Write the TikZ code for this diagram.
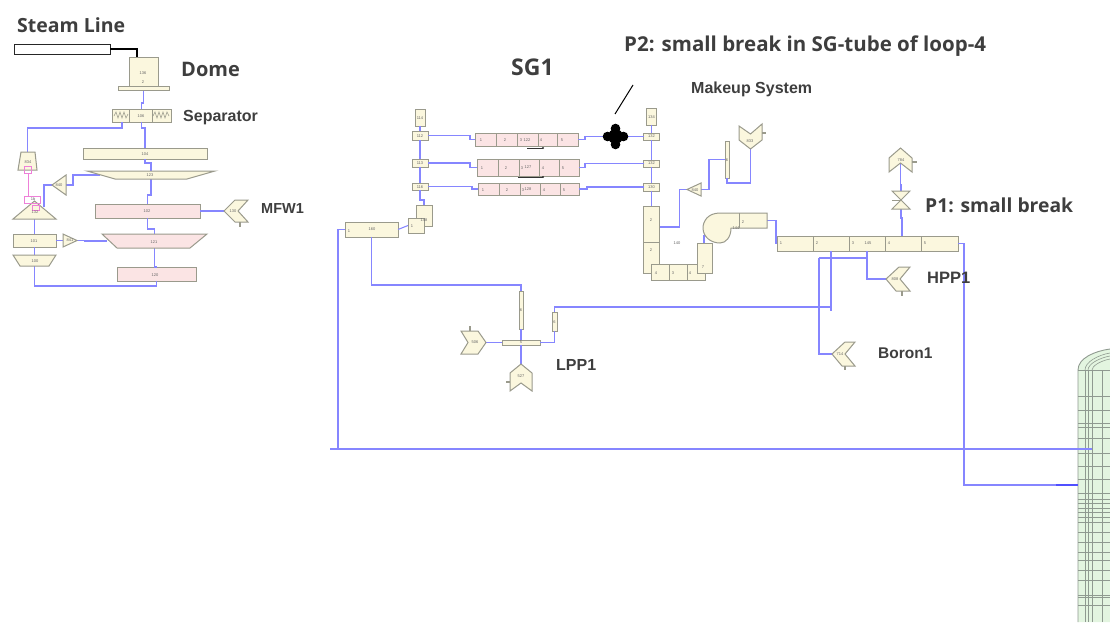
\documentclass[tikz,border=0pt]{standalone}
\usepackage{fontspec}
\setmainfont{Liberation Sans}
\newfontfamily\lab{Open Sans}
\usetikzlibrary{calc}
\definecolor{cream}{HTML}{FBF7DE}
\definecolor{rosy}{HTML}{FBE4E4}
\definecolor{edge}{HTML}{9A9A8C}
\definecolor{pipeblue}{HTML}{8686FF}
\definecolor{magent}{HTML}{EE80D8}
\definecolor{inkk}{HTML}{3E3E3E}
\definecolor{vessel}{HTML}{E3F5E0}
\definecolor{mesh}{HTML}{8F9A90}
\tikzset{
 boxy/.style={draw=edge,fill=cream,line width=1pt},
 pinky/.style={draw=edge,fill=rosy,line width=1pt},
 ghost/.style={draw=none,fill=none},
 pipe/.style={draw=pipeblue,line width=1.05pt},
 poly/.style={draw=edge,fill=cream,line width=1pt},
 polyp/.style={draw=edge,fill=rosy,line width=1pt},
 stub/.style={draw=edge,line width=1.2pt},
 divv/.style={draw=edge,line width=0.6pt},
 pinkline/.style={draw=magent,line width=0.8pt},
 tiny/.style={font=\fontsize{4}{5}\selectfont,text=inkk!80},
 bigl/.style={font=\lab\bfseries\fontsize{#1}{#1}\selectfont,text=inkk,inner sep=0,anchor=west},
 arl/.style={font=\bfseries\fontsize{#1}{#1}\selectfont,text=inkk,inner sep=0,anchor=west},
}
\newcommand{\bx}[7][boxy]{%
 \pgfmathsetmacro{\cxx}{(#3+#5)/2}\pgfmathsetmacro{\cyy}{(#4+#6)/2}%
 \pgfmathsetmacro{\www}{#5-#3}\pgfmathsetmacro{\hhh}{#6-#4}%
 \node[#1,rectangle,inner sep=0,outer sep=0,minimum width=\www pt,minimum height=\hhh pt,tiny] (#2) at (\cxx,\cyy) {#7};}
\begin{document}
\begin{tikzpicture}[x=1pt,y=-1pt]
\useasboundingbox (0,0) rectangle (1110,622);
% ---------- vessel
\fill[vessel] (1078,622) -- (1078,370) .. controls (1078,358) and (1095,351) .. (1110,349) -- (1110,622) -- cycle;
\begin{scope}
\clip (1078,622) -- (1078,370) .. controls (1078,358) and (1095,351) .. (1110,349) -- (1110,622) -- cycle;
\foreach \yy in {396.5,410,423,427,438,453,466,479,493,499,503,508,512,517,522,532,542,552,560,570,580,595,597,605}
  \draw[draw=mesh,line width=0.6pt] (1078,\yy) -- (1110,\yy);
\foreach \xx in {1085,1088,1092,1102} \draw[draw=mesh,line width=0.6pt] (\xx,370) -- (\xx,622);
\draw[draw=mesh,line width=0.6pt] (1078,370) -- (1110,370);
\draw[draw=mesh,line width=0.6pt] (1085,370) .. controls (1085,362) and (1098,355) .. (1110,353);
\draw[draw=mesh,line width=0.6pt] (1088,370) .. controls (1088,364) and (1099,358) .. (1110,356);
\draw[draw=mesh,line width=0.6pt] (1092,370) .. controls (1092,366) and (1100,361) .. (1110,359);
\end{scope}
\draw[draw=mesh,line width=0.9pt] (1078,622) -- (1078,370) .. controls (1078,358) and (1095,351) .. (1110,349);
% ---------- named frames (left loop)
\bx[ghost]{dome}{118}{57}{169}{90}{}
\bx[ghost]{pmfw}{224}{200}{248}{222}{}
\bx[ghost]{tEight}{18}{152}{37}{170}{}
\bx[ghost]{tOTT}{87}{171}{215}{179}{}
\bx[ghost]{tOTO}{102}{234}{207}{248}{}
\bx[ghost]{tHun}{13}{255}{56}{266}{}
\bx[ghost]{tri}{13}{201}{56}{219}{}
\bx[ghost]{pa}{52}{175}{66}{195}{}
\bx[ghost]{tb}{63}{234}{77}{247}{}
\coordinate (domeTop) at (137,57);
\coordinate (sepOut) at (122,122);
\coordinate (triOut) at (44,207);
\coordinate (tOTTw) at (100,175);
\coordinate (tOTOw) at (107,241);
% ---------- named frames (SG and pump)
\bx[ghost]{blob}{603}{123}{628}{150}{}
\bx[ghost]{tri2}{687}{183}{701}{196}{}
\bx[ghost]{pump833}{739}{124}{762}{149}{}
\bx[ghost]{casing}{703}{213}{767}{243}{}
\bx[ghost]{valve}{892}{191}{910}{209}{}
\bx[ghost]{pump784}{889}{148}{912}{172}{}
\bx[ghost]{pHPP}{886}{267}{910}{291}{}
\bx[ghost]{pBor}{832}{342}{855}{366}{}
\bx[ghost]{pLeft}{461}{331}{486}{354}{}
\bx[ghost]{pBot}{510}{364}{532}{391}{}
% ---------- solid boxes are named before the connectors
\node[draw=black!85,fill=white,line width=1pt,minimum width=96pt,minimum height=10pt,inner sep=0,outer sep=0] (stm) at (62,49) {};
\bx{sep}{112}{109}{171}{122}{}
\bx{bOFour}{83}{148}{207}{159}{}
\bx[pinky]{bOTwo}{95}{204}{200}{218}{}
\bx{bOOne}{13}{234}{56}{247}{}
\bx[pinky]{bOTw}{117}{267}{196}{281}{}
\bx{sTop}{415}{109}{425}{126}{}
\bx{jA}{412}{131}{428}{140}{}
\bx{jB}{412}{159}{428}{167}{}
\bx{jC}{412}{183}{428}{190}{}
\bx{bFE}{416}{205}{432}{226}{}
\bx{bFN}{408}{218}{424}{233}{}
\bx{bSix}{345}{222}{398}{237}{}
\bx[pinky]{pA}{475}{133}{578}{146}{}
\bx[pinky]{pB}{477}{159}{579}{176}{}
\bx[pinky]{pC}{478}{183}{579}{195}{}
\bx{rTop}{646.5}{108}{656.5}{125}{}
\bx{jD}{643.5}{133}{659.5}{140}{}
\bx{jE}{643.5}{160}{659.5}{167}{}
\bx{jF}{643.5}{183}{659.5}{191}{}
\bx{um}{643.5}{206}{659.5}{273}{}
\bx{ub}{651}{264}{705}{280}{}
\bx{ur}{697}{243}{712}{273}{}
\bx{vOne}{725}{141}{729}{178}{}
\bx{bPres}{777}{236}{958}{251}{}
\bx{vTwo}{552}{312}{557}{331}{}
\bx{vThree}{519}{291}{523}{329}{}
\bx{hOne}{502}{340}{540}{345}{}
\coordinate (uOut) at (659.5,227);
\coordinate (cOut) at (767,220.5);
\coordinate (urTop) at (704,243);
\coordinate (cIn) at (704,235);
\coordinate (cTop) at (902,236);
\coordinate (c784) at (900.5,163);
\coordinate (cA) at (831,251);
\coordinate (cAm) at (831,307);
\coordinate (cAe) at (831,311);
\coordinate (cB) at (867,251);
\coordinate (cBm) at (867,258);
\coordinate (cC) at (819,258);
\coordinate (mainL) at (330,449);
\coordinate (mainR) at (1092,449);
\coordinate (mainJ) at (338,449);
\coordinate (vesIn) at (1078,485);
\coordinate (vesT) at (1056,485);
% ---------- connectors
\draw[draw=black,line width=2pt] (stm.east) -| (domeTop);
\draw[pipe] (dome.south) -- ++(0,13) -| (sep.north);
\draw[pipe] (sep.south) -- ++(0,6) -| (bOFour.north);
\draw[pipe] (sepOut) -- ++(0,6) -| (tEight.north);
\draw[pipe] (bOFour.south) -- ++(0,4) -| (tOTT.north);
\draw[pipe] (tOTT.south) -- ++(0,16) -| (bOTwo.north);
\draw[pipe] (bOTwo.south) -- ++(0,11) -| (tOTO.north);
\draw[pipe] (tOTO.south) -- ++(0,19) -| (bOTw.north);
\draw[pipe] (bOTw.south) -- ++(0,5) -| (tHun.south);
\draw[pipe] (tHun.north) -- (bOOne.south);
\draw[pipe] (bOOne.north) -- (tri.south);
\draw[pipe] (bOTwo.east) -- (pmfw.west);
\draw[pipe] (triOut) |- (pa.west);
\draw[pipe] (pa.east) -- ++(7,0) |- (tOTTw);
\draw[pipe] (bOOne.east) -- (tb.west);
\draw[pipe] (tb.east) -- ++(8,0) |- (tOTOw);
\draw[pipe] (sTop.south) -- (jA.north);
\draw[pipe] (jA.south) -- (jB.north);
\draw[pipe] (jB.south) -- (jC.north);
\draw[pipe] (jC.south) -- ++(0,10) -| (bFE.north);
\draw[pipe] (bSix.east) -- (bFN.west);
\draw[pipe] (jA.east) -- ++(42,0) |- (pA.west);
\draw[pipe] (jB.east) -- ++(42,0) |- (pB.west);
\draw[pipe] (jC.east) -- ++(44,0) |- (pC.west);
\draw[pipe] (pA.east) -- ++(7,0) |- (blob.west);
\draw[pipe] (blob.east) -- (jD.west);
\draw[pipe] (pB.east) -- ++(6,0) |- (jE.west);
\draw[pipe] (pC.east) -- ++(8,0) |- (jF.west);
\draw[pipe] (rTop.south) -- (jD.north);
\draw[pipe] (jD.south) -- (jE.north);
\draw[pipe] (jE.south) -- (jF.north);
\draw[pipe] (jF.south) -- (um.north);
\draw[pipe] (uOut) -- ++(20,0) |- (tri2.west);
\draw[pipe] (tri2.east) -- ++(8,0) |- (vOne.west);
\draw[pipe] (vOne.south) -- ++(0,5) -| (pump833.south);
\draw[pipe] (urTop) -- (cIn);
\draw[pipe] (cOut) -- ++(9,0) |- (bPres.west);
\draw[pipe] (cTop) -- ++(0,-18) -| (valve.south);
\draw[pipe] (valve.north) -- ++(0,-6) -| (c784);
\draw[pipe] (cA) -- (cAe);
\draw[pipe] (cB) |- (pHPP.west);
\draw[pipe] (cBm) -- (cC);
\draw[pipe] (cC) |- (pBor.west);
\draw[pipe] (vTwo.north) |- (cAm);
\draw[pipe] (vTwo.south) |- (hOne.east);
\draw[pipe] (bSix.south) -- ++(0,48) -| (vThree.north);
\draw[pipe] (vThree.south) -- (hOne.north);
\draw[pipe] (hOne.south) -- (pBot.north);
\draw[pipe] (pLeft.east) -- (hOne.west);
\draw[pipe] (bSix.west) -- ++(-7,0) |- (mainJ);
\draw[pipe,line width=1.3pt] (mainL) -- (mainR);
\draw[pipe] (bPres.east) -- ++(6,0) |- (vesIn);
\draw[pipe,line width=1.6pt,draw=pipeblue!60!blue] (vesT) -- (vesIn);
% ---------- polygons
\draw[poly] (129,57) -- (158,57) -- (158,86) -- (129,86) -- cycle;
\draw[poly] (118,86) rectangle (169,90);
\draw[poly] (21,152) -- (35,152) -- (37,170) -- (18,170) -- cycle;
\draw[poly] (87,171) -- (215,171) -- (187,179) -- (115,179) -- cycle;
\draw[polyp] (102,234) -- (207,234) -- (190,248) -- (117,248) -- cycle;
\draw[poly] (13,255) -- (56,255) -- (49,266) -- (20,266) -- cycle;
\draw[poly] (34.5,201) -- (56,219) -- (13,219) -- cycle;
\draw[poly] (52,185) -- (66,175) -- (66,195) -- cycle;
\draw[poly] (63,234) -- (77,240.5) -- (63,247) -- cycle;
\draw[poly] (224,211) -- (235,200) -- (248,200) -- (238,211) -- (248,222) -- (235,222) -- cycle;
\draw[stub] (240,222) -- (240,227);
\draw[poly] (687,189.5) -- (701,183) -- (701,196) -- cycle;
\draw[poly] (739,126) -- (750.5,134) -- (762,124) -- (762,140) -- (750.5,149) -- (739,140) -- cycle;
\draw[stub] (762,133) -- (766,133);
\draw[poly] (889,158) -- (900.5,148) -- (912,158) -- (912,172) -- (900.5,163) -- (889,172) -- cycle;
\draw[stub] (912,162) -- (917,162);
\draw[poly] (892,191) -- (910,191) -- (892,209) -- (910,209) -- cycle;
\draw[divv] (892,200) -- (901,200);
\draw[poly] (886,279) -- (899,267) -- (910,267) -- (900,279) -- (910,291) -- (896,291) -- cycle;
\draw[stub] (902,291) -- (902,296);
\draw[poly] (832,354) -- (845,342) -- (855,342) -- (845,354) -- (855,366) -- (842,366) -- cycle;
\draw[stub] (845,366) -- (845,370);
\draw[poly] (461,331) -- (478,331) -- (486,342.5) -- (478,354) -- (461,354) -- (468,342.5) -- cycle;
\draw[stub] (470,331) -- (470,326);
\draw[poly] (510,373) -- (521,364) -- (532,373) -- (532,391) -- (521,383) -- (510,391) -- cycle;
\draw[stub] (510,382) -- (506,382);
\draw[poly] (767,213) -- (720,213) .. controls (708,213) and (703,221) .. (703,228) .. controls (703,237) and (711,243) .. (720,243) .. controls (726,243) and (731,237) .. (731,228) -- (767,228) -- cycle;
\draw[divv] (739,213) -- (739,228);
% ---------- dividers
\draw[divv] (129,109) -- (129,122) (152,109) -- (152,122);
\foreach \xx in {496,517,538,557} \draw[divv] (\xx,133) -- (\xx,146);
\foreach \xx in {498,519,539,559} \draw[divv] (\xx,159) -- (\xx,176);
\foreach \xx in {499,520,540,560} \draw[divv] (\xx,183) -- (\xx,195);
\draw[divv] (643.5,242) -- (659.5,242) (669,264) -- (669,280) (687,264) -- (687,280) (697,273) -- (712,273);
\foreach \xx in {813,849,885,921} \draw[divv] (\xx,236) -- (\xx,251);
\draw[divv] (114,116) -- (116,112) -- (118,118) -- (120,112) -- (122,118) -- (124,112) -- (126,118) -- (128,114);
\draw[divv] (153,116) -- (155,112) -- (157,118) -- (159,112) -- (161,118) -- (163,112) -- (165,118) -- (167,112) -- (169,116);
% ---------- magenta part
\draw[pinkline] (24,166) rectangle (31,173);
\draw[pinkline] (28,173) -- (28,196);
\draw[pinkline] (24,196) rectangle (40,203);
\draw[pinkline] (32,205) rectangle (39,210);
% ---------- break symbol
\fill[black] (blob.center) circle (7.5);
\foreach \ang in {0,90,180,270} \fill[black] (blob.center) ++(\ang:8) circle (4.8);
\coordinate (breakTip) at (615,114);
\coordinate (breakEnd) at (633,85);
\draw[black,line width=1pt] (breakEnd) -- (breakTip);
% ---------- small black arrows
\draw[black!80,line width=0.8pt] (527,148) -- (543,148);
\draw[black!80,line width=0.8pt] (518,177) -- (543,177);
\fill[black!80] (543,148) circle (1.2) (543,177) circle (1.2);
% ---------- tiny labels
\begin{scope}[every node/.style={tiny,inner sep=0}]
\node at (143,73) {136}; \node at (143,82) {2}; \node at (141,116) {106};
\node at (145,154) {104}; \node at (150,175) {123}; \node at (147,211) {102};
\node at (154,242) {121}; \node at (155,275) {120}; \node at (34,241) {101};
\node at (35,261) {100}; \node at (28,162) {834}; \node at (35,212) {132};
\node at (33,199) {1b}; \node at (59,185) {840}; \node at (70,240) {841};
\node at (233,211) {130};
\node at (420,118) {114}; \node at (420,136) {112}; \node at (420,163) {113}; \node at (420,187) {116};
\node at (424,220) {148}; \node at (372,229) {160}; \node at (349,231) {1}; \node at (412,226) {1};
\node at (651.5,117) {134}; \node at (651.5,136.5) {132}; \node at (651.5,163.5) {132}; \node at (651.5,187) {130};
\node at (527,140) {122}; \node at (528,167) {127}; \node at (528,189) {128};
\foreach \xx/\tt in {481/1,505/2,521/3,541/4,562/5} \node at (\xx,140) {\tt};
\foreach \xx/\tt in {482/1,506/2,522/3,543/4,563/5} \node at (\xx,168) {\tt};
\foreach \xx/\tt in {483/1,507/2,523/3,544/4,564/5} \node at (\xx,190) {\tt};
\node at (651,220) {2}; \node at (651,250) {2}; \node at (677,243) {140};
\node at (656,273) {4}; \node at (673,273) {3}; \node at (690,273) {4}; \node at (703,267) {7};
\node at (736,228) {144}; \node at (743,222) {2}; \node at (750,141) {833};
\node at (727,160) {6}; \node at (695,190) {840}; \node at (901,160) {784};
\node at (868,243.5) {145}; \foreach \xx/\tt in {781/1,817/2,853/3,889/4,925/5} \node at (\xx,243.5) {\tt};
\node at (895,279) {808}; \node at (840,354) {714}; \node at (475,342.5) {506};
\node at (521,376) {527}; \node at (521,310) {6}; \node at (554.5,322) {6}; \node at (521,342.5) {5};
\end{scope}
% ---------- labels
\node[bigl=19.5] (lSteam) at (17,25) {Steam Line};
\node[bigl=20] (lDome) at (181,69) {Dome};
\node[arl=16] (lSep) at (183,118) {Separator};
\node[arl=14.5] (lMFW) at (261,209) {MFW1};
\node[bigl=23] (lSG) at (511,67) {SG1};
\node[bigl=20.5] (lP2) at (624,46) {P2: small break in SG-tube of loop-4};
\node[arl=16] (lMake) at (691,89) {Makeup System};
\node[bigl=19.3] (lP1) at (925,205) {P1: small break};
\node[arl=16.5] (lHPP) at (927,278) {HPP1};
\node[arl=15.5] (lBor) at (878,353) {Boron1};
\node[arl=16] (lLPP) at (556,365) {LPP1};
\end{tikzpicture}
\end{document}
